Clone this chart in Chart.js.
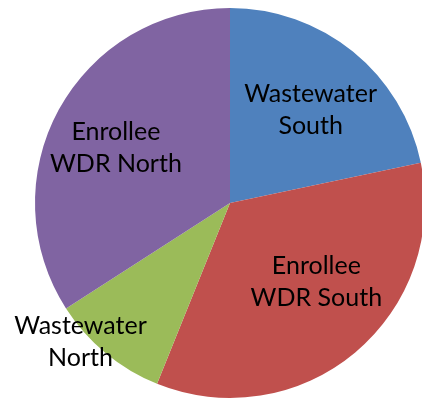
<!DOCTYPE html>
<html>
<head>
<meta charset="utf-8">
<script src="https://cdn.jsdelivr.net/npm/chart.js@4.4.1/dist/chart.umd.min.js"></script>
<style>
    html, body { margin: 0; padding: 0; background: #fff; overflow: hidden; }
    #wrap { width: 422px; height: 400px; overflow: hidden; }
    #box { width: 430px; height: 400px; }
</style>
</head>
<body>
<div id="wrap"><div id="box"><canvas id="pieChart"></canvas></div></div>
<script>
// slice order is clockwise from 12 o'clock
const categories = ['Wastewater South', 'Enrollee WDR South', 'Wastewater North', 'Enrollee WDR North'];
const labelLines = [['Wastewater', 'South'], ['Enrollee', 'WDR South'], ['Wastewater', 'North'], ['Enrollee', 'WDR North']];
const shares = [21.7, 34.4, 9.8, 34.1];
const sliceColors = ['#4F81BD', '#C0504D', '#9BBB59', '#8064A2'];

// where each label sits: degrees off the slice middle, fraction of the radius
const labelSpots = [
    { turn: 2, dist: 0.63 },
    { turn: -7.6, dist: 0.60 },
    { turn: 7.6, dist: 1.045 },
    { turn: -2.8, dist: 0.65 }
];

const sliceLabels = {
    id: 'sliceLabels',
    afterDatasetsDraw(chart) {
        const ctx = chart.ctx;
        const arcs = chart.getDatasetMeta(0).data;
        ctx.save();
        ctx.font = '25px Lato';
        ctx.fillStyle = '#000';
        ctx.textAlign = 'center';
        ctx.textBaseline = 'middle';
        arcs.forEach((arc, i) => {
            const p = arc.getProps(['x', 'y', 'startAngle', 'endAngle', 'outerRadius'], true);
            const spot = labelSpots[i];
            const ang = (p.startAngle + p.endAngle) / 2 + spot.turn * Math.PI / 180;
            const r = p.outerRadius * spot.dist;
            const cx = p.x + Math.cos(ang) * r;
            const cy = p.y + Math.sin(ang) * r;
            const lines = labelLines[i];
            const lh = 32;
            lines.forEach((txt, k) => {
                ctx.fillText(txt, cx, cy + (k - (lines.length - 1) / 2) * lh);
            });
        });
        ctx.restore();
    }
};

new Chart(document.getElementById('pieChart'), {
    type: 'pie',
    data: {
        labels: categories,
        datasets: [{
            data: shares,
            backgroundColor: sliceColors,
            borderWidth: 0
        }]
    },
    options: {
        responsive: true,
        maintainAspectRatio: false,
        animation: false,
        layout: { padding: { left: 35, right: 5, top: 8, bottom: 2 } },
        plugins: {
            legend: { display: false },
            tooltip: { enabled: false }
        }
    },
    plugins: [sliceLabels]
});
</script>
</body>
</html>
